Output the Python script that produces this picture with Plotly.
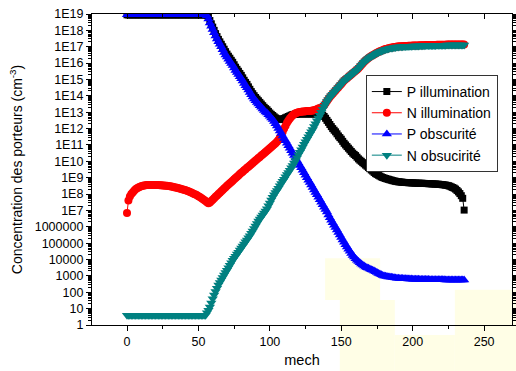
import plotly.graph_objects as go

# mesh index (x), 0..236
mech = [
    0, 1, 2, 3, 4, 5, 6, 7, 8, 9, 10, 11, 12, 13, 14, 15, 16, 17, 18, 19,
    20, 21, 22, 23, 24, 25, 26, 27, 28, 29, 30, 31, 32, 33, 34, 35, 36, 37, 38, 39,
    40, 41, 42, 43, 44, 45, 46, 47, 48, 49, 50, 51, 52, 53, 54, 55, 56, 57, 58, 59,
    60, 61, 62, 63, 64, 65, 66, 67, 68, 69, 70, 71, 72, 73, 74, 75, 76, 77, 78, 79,
    80, 81, 82, 83, 84, 85, 86, 87, 88, 89, 90, 91, 92, 93, 94, 95, 96, 97, 98, 99,
    100, 101, 102, 103, 104, 105, 106, 107, 108, 109, 110, 111, 112, 113, 114, 115, 116, 117, 118, 119,
    120, 121, 122, 123, 124, 125, 126, 127, 128, 129, 130, 131, 132, 133, 134, 135, 136, 137, 138, 139,
    140, 141, 142, 143, 144, 145, 146, 147, 148, 149, 150, 151, 152, 153, 154, 155, 156, 157, 158, 159,
    160, 161, 162, 163, 164, 165, 166, 167, 168, 169, 170, 171, 172, 173, 174, 175, 176, 177, 178, 179,
    180, 181, 182, 183, 184, 185, 186, 187, 188, 189, 190, 191, 192, 193, 194, 195, 196, 197, 198, 199,
    200, 201, 202, 203, 204, 205, 206, 207, 208, 209, 210, 211, 212, 213, 214, 215, 216, 217, 218, 219,
    220, 221, 222, 223, 224, 225, 226, 227, 228, 229, 230, 231, 232, 233, 234, 235, 236]

# values, as log10(concentration in cm^-3); rows of 10 points
p_illum_log = [
    18.95, 18.95, 18.95, 18.95, 18.95, 18.95, 18.95, 18.95, 18.95, 18.95,   # 0
    18.95, 18.95, 18.95, 18.95, 18.95, 18.95, 18.95, 18.95, 18.95, 18.95,   # 10
    18.95, 18.95, 18.95, 18.95, 18.95, 18.95, 18.95, 18.95, 18.95, 18.95,   # 20
    18.95, 18.95, 18.95, 18.95, 18.95, 18.95, 18.95, 18.95, 18.95, 18.95,   # 30
    18.95, 18.95, 18.95, 18.95, 18.95, 18.95, 18.95, 18.95, 18.95, 18.95,   # 40
    18.95, 18.95, 18.95, 18.95, 18.95, 18.95, 18.93, 18.8, 18.6, 18.4,      # 50
    18.2, 18.0, 17.8, 17.62, 17.45, 17.3, 17.15, 17.0, 16.85, 16.7,        # 60
    16.55, 16.42, 16.3, 16.17, 16.05, 15.9, 15.75, 15.62, 15.5, 15.37,     # 70
    15.25, 15.1, 14.95, 14.82, 14.7, 14.55, 14.4, 14.26, 14.13, 14.01,     # 80
    13.9, 13.8, 13.7, 13.6, 13.5, 13.4, 13.3, 13.22, 13.15, 13.05,         # 90
    12.95, 12.87, 12.8, 12.72, 12.65, 12.6, 12.56, 12.55, 12.56, 12.59,    # 100
    12.62, 12.66, 12.7, 12.74, 12.78, 12.82, 12.85, 12.87, 12.88, 12.89,   # 110
    12.9, 12.9, 12.9, 12.9, 12.9, 12.9, 12.9, 12.9, 12.9, 12.9,            # 120
    12.9, 12.9, 12.9, 12.9, 12.9, 12.89, 12.87, 12.82, 12.74, 12.63,       # 130
    12.5, 12.38, 12.25, 12.12, 12.0, 11.9, 11.8, 11.68, 11.55, 11.45,      # 140
    11.35, 11.22, 11.1, 11.0, 10.9, 10.8, 10.7, 10.6, 10.5, 10.42,         # 150
    10.35, 10.25, 10.15, 10.07, 10.0, 9.92, 9.85, 9.77, 9.7, 9.62,         # 160
    9.55, 9.47, 9.4, 9.32, 9.25, 9.2, 9.15, 9.1, 9.05, 9.01,               # 170
    8.98, 8.95, 8.92, 8.9, 8.87, 8.85, 8.82, 8.8, 8.78, 8.76,              # 180
    8.75, 8.74, 8.73, 8.72, 8.71, 8.705, 8.7, 8.695, 8.69, 8.685,          # 190
    8.68, 8.675, 8.67, 8.665, 8.66, 8.66, 8.66, 8.655, 8.65, 8.645,        # 200
    8.64, 8.635, 8.63, 8.625, 8.62, 8.615, 8.61, 8.605, 8.6, 8.59,         # 210
    8.58, 8.57, 8.56, 8.545, 8.53, 8.51, 8.48, 8.44, 8.4, 8.36,            # 220
    8.3, 8.22, 8.13, 8.03, 7.9, 7.74, 7.02]                                # 230

n_illum_log = [
    6.84, 7.6, 7.85, 8.0, 8.1, 8.2, 8.3, 8.35, 8.4, 8.44,                  # 0
    8.47, 8.5, 8.52, 8.54, 8.55, 8.555, 8.56, 8.56, 8.56, 8.56,            # 10
    8.56, 8.555, 8.55, 8.545, 8.54, 8.53, 8.52, 8.51, 8.5, 8.485,          # 20
    8.47, 8.455, 8.44, 8.42, 8.4, 8.38, 8.36, 8.335, 8.31, 8.285,          # 30
    8.26, 8.23, 8.2, 8.165, 8.13, 8.09, 8.05, 8.01, 7.97, 7.92,            # 40
    7.87, 7.82, 7.76, 7.7, 7.63, 7.57, 7.5, 7.44, 7.49, 7.57,              # 50
    7.65, 7.74, 7.83, 7.91, 8.0, 8.08, 8.17, 8.25, 8.34, 8.42,             # 60
    8.5, 8.58, 8.66, 8.74, 8.82, 8.9, 8.98, 9.06, 9.14, 9.22,              # 70
    9.3, 9.37, 9.45, 9.52, 9.6, 9.67, 9.75, 9.82, 9.9, 9.97,               # 80
    10.05, 10.12, 10.2, 10.27, 10.35, 10.42, 10.5, 10.57, 10.65, 10.72,    # 90
    10.8, 10.87, 10.95, 11.02, 11.1, 11.2, 11.3, 11.45, 11.6, 11.8,        # 100
    12.0, 12.18, 12.35, 12.5, 12.62, 12.72, 12.82, 12.88, 12.93, 12.97,    # 110
    13.0, 13.02, 13.03, 13.04, 13.05, 13.06, 13.07, 13.075, 13.08, 13.09,  # 120
    13.1, 13.12, 13.15, 13.18, 13.22, 13.25, 13.28, 13.35, 13.42, 13.55,   # 130
    13.68, 13.81, 13.93, 14.03, 14.13, 14.23, 14.33, 14.43, 14.53, 14.63,  # 140
    14.73, 14.83, 14.93, 15.01, 15.08, 15.16, 15.23, 15.31, 15.38, 15.46,  # 150
    15.53, 15.6, 15.68, 15.78, 15.88, 15.98, 16.08, 16.16, 16.23, 16.31,   # 160
    16.38, 16.43, 16.48, 16.53, 16.58, 16.63, 16.68, 16.72, 16.75, 16.79,  # 170
    16.83, 16.86, 16.88, 16.91, 16.93, 16.95, 16.96, 16.98, 16.99, 17.01,  # 180
    17.02, 17.025, 17.03, 17.035, 17.04, 17.045, 17.05, 17.055, 17.06, 17.065,  # 190
    17.07, 17.075, 17.08, 17.08, 17.08, 17.085, 17.09, 17.09, 17.095, 17.1,     # 200
    17.1, 17.1, 17.105, 17.11, 17.11, 17.11, 17.11, 17.115, 17.12, 17.12,       # 210
    17.12, 17.12, 17.12, 17.125, 17.13, 17.13, 17.13, 17.13, 17.13, 17.13,      # 220
    17.13, 17.13, 17.13, 17.13, 17.13, 17.13, 17.13]                           # 230

p_obsc_log = [
    18.95, 18.95, 18.95, 18.95, 18.95, 18.95, 18.95, 18.95, 18.95, 18.95,   # 0
    18.95, 18.95, 18.95, 18.95, 18.95, 18.95, 18.95, 18.95, 18.95, 18.95,   # 10
    18.95, 18.95, 18.95, 18.95, 18.95, 18.95, 18.95, 18.95, 18.95, 18.95,   # 20
    18.95, 18.95, 18.95, 18.95, 18.95, 18.95, 18.95, 18.95, 18.95, 18.95,   # 30
    18.95, 18.95, 18.95, 18.95, 18.95, 18.95, 18.95, 18.95, 18.95, 18.95,   # 40
    18.95, 18.95, 18.95, 18.95, 18.95, 18.95, 18.9, 18.7, 18.45, 18.25,     # 50
    18.05, 17.85, 17.65, 17.47, 17.3, 17.15, 17.0, 16.82, 16.65, 16.5,     # 60
    16.37, 16.23, 16.1, 15.97, 15.85, 15.7, 15.55, 15.42, 15.3, 15.17,     # 70
    15.05, 14.9, 14.75, 14.62, 14.5, 14.35, 14.2, 14.06, 13.93, 13.81,     # 80
    13.7, 13.6, 13.5, 13.4, 13.3, 13.2, 13.1, 13.02, 12.95, 12.85,         # 90
    12.75, 12.65, 12.55, 12.43, 12.3, 12.15, 12.0, 11.85, 11.7, 11.55,     # 100
    11.4, 11.25, 11.1, 10.95, 10.8, 10.65, 10.5, 10.35, 10.2, 10.05,       # 110
    9.9, 9.75, 9.6, 9.45, 9.3, 9.15, 9.0, 8.85, 8.7, 8.55,                 # 120
    8.4, 8.25, 8.1, 7.95, 7.8, 7.65, 7.5, 7.35, 7.2, 7.05,                 # 130
    6.9, 6.72, 6.55, 6.4, 6.25, 6.1, 5.95, 5.8, 5.65, 5.5,                 # 140
    5.35, 5.2, 5.05, 4.9, 4.76, 4.63, 4.5, 4.37, 4.25, 4.15,               # 150
    4.05, 3.96, 3.88, 3.8, 3.72, 3.66, 3.6, 3.55, 3.5, 3.46,               # 160
    3.42, 3.38, 3.35, 3.3, 3.25, 3.2, 3.15, 3.11, 3.07, 3.03,              # 170
    3.0, 2.98, 2.96, 2.94, 2.93, 2.91, 2.9, 2.88, 2.87, 2.86,              # 180
    2.85, 2.845, 2.84, 2.835, 2.83, 2.825, 2.82, 2.815, 2.81, 2.805,       # 190
    2.8, 2.795, 2.79, 2.79, 2.79, 2.785, 2.78, 2.78, 2.78, 2.78,           # 200
    2.775, 2.775, 2.77, 2.77, 2.77, 2.77, 2.765, 2.765, 2.76, 2.76,        # 210
    2.76, 2.76, 2.76, 2.755, 2.755, 2.755, 2.75, 2.75, 2.75, 2.75,         # 220
    2.75, 2.75, 2.75, 2.75, 2.75, 2.75, 2.75]                              # 230

n_obsc_log = [
    0.6, 0.6, 0.6, 0.6, 0.6, 0.6, 0.6, 0.6, 0.6, 0.6,                      # 0
    0.6, 0.6, 0.6, 0.6, 0.6, 0.6, 0.6, 0.6, 0.6, 0.6,                      # 10
    0.6, 0.6, 0.6, 0.6, 0.6, 0.6, 0.6, 0.6, 0.6, 0.6,                      # 20
    0.6, 0.6, 0.6, 0.6, 0.6, 0.6, 0.6, 0.6, 0.6, 0.6,                      # 30
    0.6, 0.6, 0.6, 0.6, 0.6, 0.6, 0.6, 0.6, 0.6, 0.6,                      # 40
    0.6, 0.6, 0.6, 0.6, 0.6, 0.6, 0.75, 0.9, 1.1, 1.35,                    # 50
    1.6, 1.83, 2.05, 2.25, 2.45, 2.6, 2.75, 2.9, 3.05, 3.2,                # 60
    3.35, 3.5, 3.65, 3.8, 3.95, 4.08, 4.2, 4.33, 4.45, 4.58,               # 70
    4.7, 4.83, 4.95, 5.08, 5.2, 5.33, 5.45, 5.6, 5.75, 5.9,                # 80
    6.05, 6.2, 6.35, 6.48, 6.6, 6.72, 6.85, 6.97, 7.1, 7.28,               # 90
    7.45, 7.63, 7.8, 7.95, 8.1, 8.22, 8.35, 8.5, 8.65, 8.78,               # 100
    8.9, 9.05, 9.2, 9.32, 9.45, 9.6, 9.75, 9.9, 10.05, 10.22,              # 110
    10.4, 10.55, 10.7, 10.88, 11.05, 11.2, 11.35, 11.5, 11.65, 11.8,       # 120
    11.95, 12.12, 12.3, 12.48, 12.65, 12.82, 13.0, 13.18, 13.35, 13.5,     # 130
    13.65, 13.78, 13.9, 14.0, 14.1, 14.2, 14.3, 14.4, 14.5, 14.6,          # 140
    14.7, 14.8, 14.9, 14.98, 15.05, 15.13, 15.2, 15.28, 15.35, 15.43,      # 150
    15.5, 15.57, 15.65, 15.75, 15.85, 15.95, 16.05, 16.13, 16.2, 16.28,    # 160
    16.35, 16.4, 16.45, 16.5, 16.55, 16.6, 16.65, 16.69, 16.72, 16.76,     # 170
    16.8, 16.83, 16.85, 16.88, 16.9, 16.92, 16.93, 16.95, 16.96, 16.98,    # 180
    16.99, 16.995, 17.0, 17.005, 17.01, 17.015, 17.02, 17.025, 17.03, 17.035,   # 190
    17.04, 17.045, 17.05, 17.05, 17.05, 17.055, 17.06, 17.06, 17.065, 17.07,    # 200
    17.07, 17.07, 17.075, 17.08, 17.08, 17.08, 17.08, 17.085, 17.09, 17.09,     # 210
    17.09, 17.09, 17.09, 17.095, 17.1, 17.1, 17.1, 17.1, 17.1, 17.1,            # 220
    17.1, 17.1, 17.1, 17.1, 17.1, 17.1, 17.1]                                   # 230

for arr in (p_illum_log, n_illum_log, p_obsc_log, n_obsc_log):
    assert len(arr) == len(mech), len(arr)

series_names = ["P illumination", "N illumination", "P obscurité", "N obsucirité"]
series_colors = ["#000000", "#FF0000", "#0000FF", "#008080"]
series_symbols = ["square", "circle", "triangle-up", "triangle-down"]
series_sizes = [7, 8, 9, 9]
series_logs = [p_illum_log, n_illum_log, p_obsc_log, n_obsc_log]

xtick_vals = [0, 50, 100, 150, 200, 250]
xminor_vals = [25, 75, 125, 175, 225]
ytick_vals = [10 ** k for k in range(0, 20)]
ytick_text = ["1", "10", "100", "1000", "10000", "100000", "1000000",
              "1E7", "1E8", "1E9", "1E10", "1E11", "1E12", "1E13", "1E14",
              "1E15", "1E16", "1E17", "1E18", "1E19"]
yminor_vals = [m * 10 ** k for k in range(0, 19) for m in range(2, 10)]

FONT = "Arial, Liberation Sans, sans-serif"

fig = go.Figure()
for name, col, sym, sz, lg in zip(series_names, series_colors, series_symbols, series_sizes, series_logs):
    fig.add_trace(go.Scatter(
        x=mech, y=[10 ** v for v in lg], name=name, mode="lines+markers",
        line=dict(color=col, width=1),
        marker=dict(symbol=sym, size=sz, color=col, line=dict(width=0)),
    ))

# helper trace so the top axis (inward ticks) is drawn
fig.add_trace(go.Scatter(x=[mech[0]], y=[1], xaxis="x2", mode="markers",
                         marker=dict(opacity=0), showlegend=False, hoverinfo="skip"))

# faint pale-yellow watermark patches in the lower-right background (paper coordinates)
watermark_boxes = [(0.555, 0.686, 0.080, 0.215), (0.590, 0.721, -0.148, 0.080),
                   (0.864, 1.010, -0.148, 0.113), (0.721, 0.864, -0.148, -0.032)]
for x0, x1, y0, y1 in watermark_boxes:
    fig.add_shape(type="rect", xref="paper", yref="paper", x0=x0, x1=x1, y0=y0, y1=y1,
                  fillcolor="#FFFEE6", line=dict(width=0), layer="below")

fig.update_layout(
    width=516, height=371,
    margin=dict(l=92, r=4, t=14, b=46),
    paper_bgcolor="white", plot_bgcolor="rgba(0,0,0,0)",
    font=dict(family=FONT, size=13, color="black"),
    showlegend=True,
    legend=dict(x=0.652, y=0.804, xanchor="left", yanchor="top",
                bgcolor="white", bordercolor="#333333", borderwidth=1,
                font=dict(size=14, family=FONT), tracegroupgap=0),
    xaxis=dict(range=[-24.5, 269.5], tickvals=xtick_vals, automargin=False,
               ticks="outside", ticklen=5, tickwidth=1, tickcolor="black",
               showline=True, linecolor="black", linewidth=1.2, showgrid=False, zeroline=False,
               tickfont=dict(size=12.5), title=dict(text="mech", font=dict(size=14.5), standoff=6),
               minor=dict(tickvals=xminor_vals, ticks="outside", ticklen=3, tickcolor="black")),
    xaxis2=dict(range=[-24.5, 269.5], overlaying="x", side="top", tickvals=xtick_vals,
                ticks="inside", ticklen=5, tickcolor="black", showticklabels=False, automargin=False,
                showline=True, linecolor="black", linewidth=1.2, showgrid=False, zeroline=False,
                minor=dict(tickvals=xminor_vals, ticks="inside", ticklen=3, tickcolor="black")),
    yaxis=dict(type="log", range=[0, 19], tickvals=ytick_vals, ticktext=ytick_text, automargin=False,
               ticks="outside", ticklen=5, tickwidth=1, tickcolor="black",
               showline=True, linecolor="black", linewidth=1.2, mirror="ticks",
               showgrid=False, zeroline=False, tickfont=dict(size=12.5),
               title=dict(text="Concentration des porteurs (cm<sup>-3</sup>)", font=dict(size=14), standoff=8),
               minor=dict(tickvals=yminor_vals, ticks="outside", ticklen=3, tickcolor="black")),
)

# remove the page's default body margin so the figure sits at the window's top-left corner
fig.write_html("out.html", config={"displayModeBar": False},
               post_script="document.body.style.margin='0';document.body.style.overflow='hidden';")
